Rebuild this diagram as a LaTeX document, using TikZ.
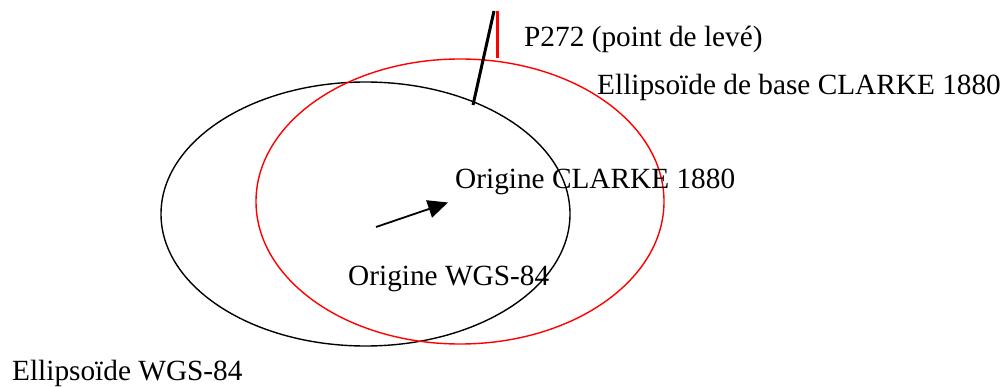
\documentclass[tikz,border=0pt]{standalone}
\usepackage{fontspec}
\setmainfont{Liberation Serif}
\usetikzlibrary{arrows.meta}
\begin{document}
\begin{tikzpicture}[x=1pt,y=-1pt,
  lbl/.style={anchor=base west,inner sep=0pt,font=\fontsize{29.3}{31}\selectfont},
  ell/.style={line width=1.4pt}]
\useasboundingbox (0,0) rectangle (1003,387);
% ellipses
\draw[ell] (365.5,214) ellipse [x radius=204.5, y radius=132];
\draw[ell,red] (460,201.5) ellipse [x radius=204, y radius=142.5];
% survey point lines
\coordinate (ptop) at (494,11);
\coordinate (pbot) at (473,105);
\coordinate (rtop) at (497,11);
\coordinate (rbot) at (497,58);
\draw[line width=3pt] (pbot) -- (ptop);
\draw[red,line width=3pt] (rbot) -- (rtop);
% arrow between origins
\coordinate (owgs) at (376,227);
\coordinate (oclk) at (448,202.5);
\draw[line width=1.8pt,-{Triangle[length=20pt,width=18pt]}] (owgs) -- (oclk);
% labels
\node[lbl] (p272) at (524,47) {P272 (point de levé)};
\node[lbl] (eclk) at (597,95) {Ellipsoïde de base CLARKE 1880};
\node[lbl] (tclk) at (455,189) {Origine CLARKE 1880};
\node[lbl] (twgs) at (348,285) {Origine WGS-84};
\node[lbl] (ewgs) at (12,380) {Ellipsoïde WGS-84};
\end{tikzpicture}
\end{document}
